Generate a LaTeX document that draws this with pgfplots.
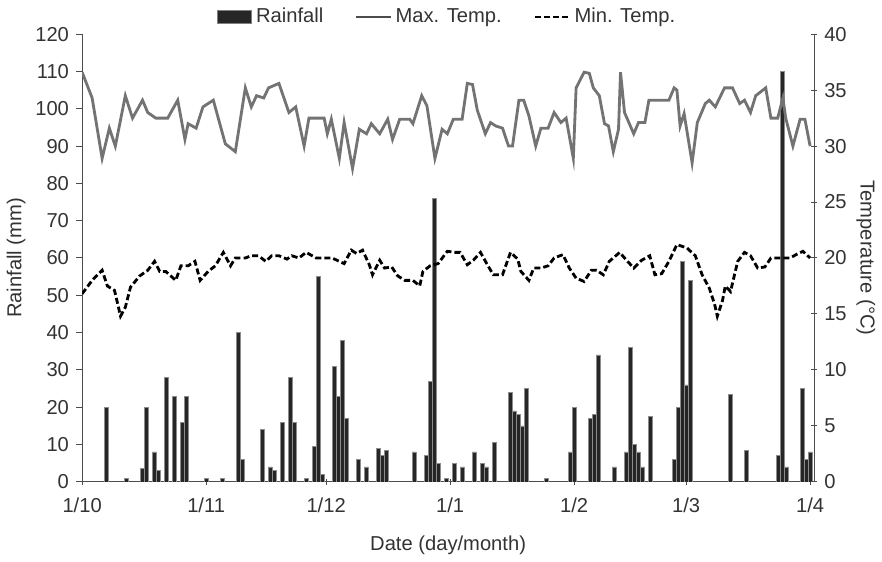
\documentclass[border=0pt]{standalone}
\usepackage{pgfplots}
\pgfplotsset{compat=1.18}
\usepackage{fontspec}
\setmainfont{Liberation Sans}

\pgfplotsset{
  common/.style={
    scale only axis, width=363pt, height=222pt,
    xmin=0, xmax=183,
    font=\fontsize{10}{12}\selectfont,
    /pgf/number format/assume math mode=true,
    tick label style={black!80},
    label style={black!80},
    axis line style={black!70, line width=0.6pt},
    major tick length=3pt,
    tick style={black!70, line width=0.5pt},
  },
}

\begin{document}
\begin{tikzpicture}
% rainfall, left axis
\begin{axis}[common,
    axis x line*=bottom, axis y line*=left,
    ymin=0, ymax=120, ytick={0,10,...,120},
    xtick={0,31,61,92,123,151,182},
    xticklabels={1/10,1/11,1/12,1/1,1/2,1/3,1/4},
    xtick align=center, ytick align=outside,
    xticklabel style={yshift=-3pt},
    xlabel={Date (day/month)},
    ylabel={Rainfall (mm)},
    ylabel style={yshift=-2pt},
    xlabel style={yshift=-4.5pt},
]
\addplot[ybar, bar width=0.85, fill=black!85, draw=black!45, line width=0.3pt] coordinates {
(6,20) (11,1) (15,3.5) (16,20) (18,8) (19,3) (21,28) (23,23) (25,16) (26,23)
(31,1) (35,1) (39,40) (40,6) (45,14) (47,4) (48,3) (50,16) (52,28) (53,16)
(56,1) (58,9.5) (59,55) (60,2) (63,31) (64,23) (65,38) (66,17) (69,6) (71,4)
(74,9) (75,7) (76,8.5) (83,8) (86,7) (87,27) (88,76) (89,5) (91,1) (93,5)
(95,4) (98,8) (100,5) (101,4) (103,10.5) (107,24) (108,19) (109,18) (110,15) (111,25)
(116,1) (122,8) (123,20) (127,17) (128,18) (129,34) (133,4) (136,8) (137,36) (138,10)
(139,8) (140,4) (142,17.5) (148,6) (149,20) (150,59) (151,26) (152,54) (162,23.5) (166,8.5)
(174,7) (175,110) (176,4) (180,25) (181,6) (182,8)
};
\end{axis}
% temperatures, right axis
\begin{axis}[common,
    axis x line=none, axis y line*=right,
    ymin=0, ymax=40, ytick={0,5,...,40},
    ytick align=center,
    ylabel={Temperature (\textdegree C)},
    ylabel style={rotate=180, yshift=-2pt},
    legend columns=3,
    legend style={at={(0.5,1.0)}, anchor=south, draw=none, fill=none,
      font=\fontsize{10}{12}\selectfont, text=black!80,
      /tikz/every even column/.append style={column sep=14pt}},
]
\addlegendimage{legend image code/.code={\fill[black!85, draw=black!50] (0pt,-3pt) rectangle (17pt,3pt);}}
\addlegendentry{Rainfall}
\addplot[black!55, line width=1.4pt, no marks,
  legend image code/.code={\draw[black!70, line width=0.8pt] (0pt,0pt) -- (17pt,0pt);}] coordinates {
(0,36.6) (2.5,34.3) (5.0,28.9) (6.8,31.6) (8.3,30.0) (10.8,34.5) (12.6,32.5) (15.1,34.1)
(16.4,33.0) (18.4,32.5) (21.4,32.5) (23.9,34.1) (25.7,30.6) (26.5,32.0) (28.5,31.6) (30.2,33.5)
(32.8,34.1) (35.8,30.2) (38.3,29.5) (40.8,35.2) (42.3,33.5) (43.6,34.5) (45.4,34.3) (46.6,35.2)
(49.2,35.6) (51.7,33.0) (53.4,33.5) (55.5,30.0) (56.7,32.5) (60.5,32.5) (61.3,31.1) (62.3,32.4)
(64.3,28.9) (65.5,32.1) (67.6,28.0) (69.3,31.5) (71.1,31.1) (72.3,32.0) (74.4,31.1) (76.4,32.4)
(77.6,30.6) (79.4,32.4) (81.9,32.4) (82.7,32.0) (84.9,34.5) (86.2,33.6) (88.2,28.9) (90.0,31.5)
(91.3,31.1) (92.8,32.4) (95.0,32.4) (96.3,35.6) (97.6,35.5) (98.8,33.2) (100.8,31.1) (102.1,32.1)
(103.4,31.8) (105.1,31.6) (106.6,30.0) (107.6,30.0) (109.2,34.1) (110.4,34.1) (111.7,32.7) (113.4,30.0)
(114.7,31.6) (116.5,31.6) (118.0,33.0) (119.7,32.1) (121.0,32.5) (122.8,28.9) (123.5,35.2) (125.5,36.6)
(126.8,36.5) (127.8,35.2) (129.3,34.5) (130.6,32.0) (131.6,31.8) (132.8,29.5) (134.1,31.5) (134.6,36.6)
(135.6,33.0) (137.9,31.1) (139.1,32.1) (140.7,32.1) (141.7,34.1) (146.7,34.1) (148.0,35.2) (148.7,35.0)
(149.5,31.8) (150.5,32.9) (152.5,28.5) (153.8,32.1) (155.8,33.8) (156.8,34.1) (158.3,33.5) (160.6,35.2)
(162.6,35.2) (164.4,33.8) (165.6,34.1) (167.1,33.0) (168.4,34.5) (170.9,35.2) (172.2,32.5) (173.9,32.5)
(175.2,34.3) (175.9,32.5) (177.7,30.0) (179.5,32.4) (180.7,32.4) (182.0,30.0)
};
\addlegendentry{Max. Temp.}
\addplot[black, line width=1.4pt, dash pattern=on 3pt off 1.5pt, no marks,
  legend image code/.code={\draw[black, line width=1.2pt, dash pattern=on 3pt off 1.5pt] (0pt,0pt) -- (17pt,0pt);}] coordinates {
(0,16.8) (2.5,18.0) (5.0,18.9) (6.3,17.5) (8.1,17.1) (9.6,14.8) (10.8,15.6) (12.1,17.4)
(14.4,18.4) (16.4,18.9) (18.1,19.7) (19.4,18.8) (20.9,18.8) (23.4,18.0) (24.7,19.3) (26.5,19.3)
(28.2,19.7) (29.5,18.0) (31.5,18.8) (33.3,19.3) (35.3,20.5) (37.1,19.3) (38.3,20.0) (40.8,20.0)
(42.3,20.2) (44.1,20.2) (45.9,19.7) (47.4,20.2) (49.2,20.2) (51.2,19.9) (52.4,20.2) (54.2,20.0)
(56.0,20.5) (58.5,20.0) (61.3,20.0) (62.5,20.0) (65.5,19.5) (67.3,20.7) (68.6,20.4) (70.1,20.7)
(71.8,19.4) (72.6,18.5) (74.4,19.8) (75.6,19.1) (77.4,19.2) (78.9,18.4) (80.7,18.0) (82.7,18.0)
(84.4,17.5) (85.2,18.8) (87.0,19.3) (89.0,19.5) (91.3,20.6) (93.3,20.5) (94.5,20.5) (96.3,19.4)
(97.8,19.8) (99.6,20.5) (101.3,19.4) (102.8,18.5) (105.1,18.5) (106.4,19.8) (107.1,20.5) (108.9,19.9)
(109.7,18.8) (111.7,18.0) (112.9,19.1) (114.7,19.1) (116.5,19.3) (118.0,20.0) (120.2,20.3) (121.8,19.1)
(123.5,18.2) (125.5,17.9) (127.3,18.9) (128.6,18.9) (130.3,18.5) (131.8,19.7) (134.4,20.5) (136.1,19.8)
(137.9,19.1) (139.9,19.8) (141.9,20.2) (143.2,18.5) (144.9,18.6) (146.7,19.7) (148.7,21.2) (151.2,20.9)
(153.3,20.2) (155.0,18.5) (156.8,17.3) (158.1,15.9) (158.8,14.8) (160.1,16.2) (160.8,17.5) (162.1,17.0)
(163.1,18.5) (163.9,19.7) (165.6,20.5) (167.1,20.2) (168.9,19.1) (170.7,19.2) (172.2,20.0) (174.4,20.0)
(177.0,20.0) (178.5,20.3) (180.2,20.6) (182.0,20.0)
};
\addlegendentry{Min. Temp.}
\end{axis}
\end{tikzpicture}
\end{document}
